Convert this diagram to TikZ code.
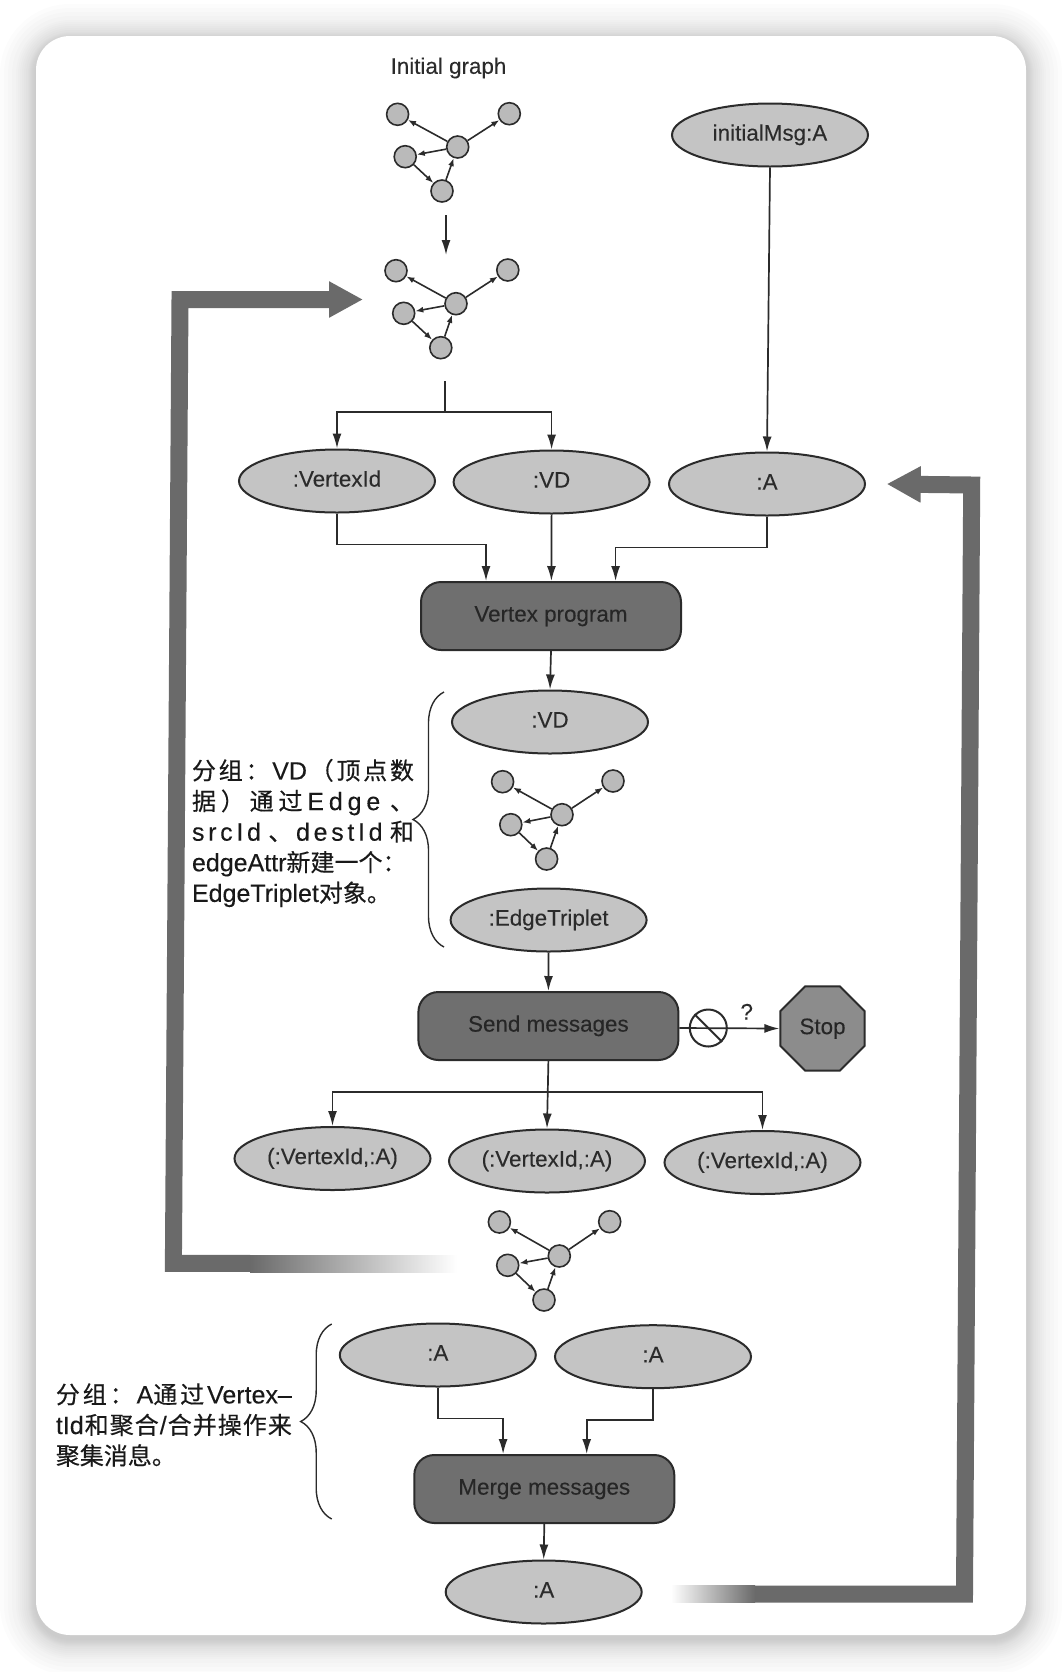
\documentclass[tikz,border=0pt]{standalone}
\usepackage{xcolor}
\usepackage{fontspec}
\setmainfont{Liberation Sans}[FakeBold=0.15]
\newfontfamily\cjk{Noto Sans CJK SC}[FakeBold=0.35]
\usepackage{tikz}
\usetikzlibrary{shapes.geometric, arrows.meta, decorations.pathreplacing}

\definecolor{inkgray}{HTML}{2B2B2B}
\definecolor{fieldgray}{HTML}{C4C4C4}
\definecolor{stagegray}{HTML}{6F6F6F}
\definecolor{stopgray}{HTML}{8C8C8C}
\definecolor{feedgray}{HTML}{6A6A6A}

\newcommand{\zh}[1]{{\cjk\fontsize{12}{15.3}\selectfont #1}}
\newcommand{\noteA}[1]{\makebox[111pt][s]{\spaceskip=0pt plus 1fil #1}}
\newcommand{\noteB}[1]{\makebox[118pt][s]{\spaceskip=0pt plus 1fil #1}}

\begin{document}
\begin{tikzpicture}[x = 0.5pt, y = -0.5pt]
            \tikzstyle{field} = [ellipse, draw=inkgray, line width=1pt, fill=fieldgray, text=inkgray, minimum width=98pt, minimum height=31.5pt, inner sep=0pt, text height=8pt, text depth=2.4pt, font=\fontsize{11.2}{13}\selectfont];
            \tikzstyle{stage} = [rectangle, rounded corners=10pt, draw=inkgray, line width=1pt, fill=stagegray, text=black!85, minimum width=130pt, minimum height=34pt, inner sep=0pt, text height=8pt, text depth=2.4pt, font=\fontsize{11.2}{13}\selectfont];
            \tikzstyle{stopsign} = [regular polygon, regular polygon sides=8, draw=inkgray, line width=1pt, fill=stopgray, text=black!85, minimum size=45.5pt, inner sep=0pt, text height=8pt, text depth=2.4pt, font=\fontsize{11.2}{13}\selectfont];
            \tikzstyle{vertexdot} = [circle, draw=inkgray, line width=0.8pt, fill=fieldgray!95!black, minimum size=11pt, inner sep=0pt];
            \tikzstyle{link} = [draw=inkgray, line width=0.8pt, -{Latex[length=4pt, width=3pt]}];
            \tikzstyle{flow} = [draw=inkgray, line width=0.85pt, -{Latex[length=7.5pt, width=4.5pt]}];
            \tikzstyle{plain} = [draw=inkgray, line width=0.85pt];
            \tikzstyle{feedback} = [draw=feedgray, line width=8.5pt, line join=miter, -{Triangle[length=17pt, width=17pt]}];
            \tikzstyle{curly} = [draw=inkgray, line width=0.7pt, decorate, decoration={brace, amplitude=15.5pt}];
            \tikzstyle{note} = [anchor=west, align=left, inner sep=0pt, text=black!90, font=\fontsize{12.5}{15.3}\selectfont];
            \tikzstyle{caption} = [text=inkgray, inner sep=0pt, font=\fontsize{11.2}{13}\selectfont];

            \useasboundingbox (0,0) rectangle (1062,1672);

            % card with soft shadow
            \foreach \s in {1,2,3,4,5,6,7,8,10,12,14,16,18,20,24,28,32,36} {
                \fill [black, opacity=0.0105, rounded corners={(17+0.5*\s)*1pt}] (36-\s,36-\s+4) rectangle (1026+\s,1635+\s+4);
            }
            \fill [white, rounded corners=17pt] (36,36) rectangle (1026,1635);

            % top of the picture
            \node [caption] (title) at (448.5,68) {Initial graph};
            \node [field] (initMsg) at (770,135) {initialMsg:A};

            \node [vertexdot] (A1) at (397.6,114.3) {};
            \node [vertexdot] (A2) at (509.3,113.7) {};
            \node [vertexdot] (A3) at (457.7,147) {};
            \node [vertexdot] (A4) at (405.2,156.7) {};
            \node [vertexdot] (A5) at (442,191) {};
            \draw [link] (A3) to (A1);
            \draw [link] (A3) to (A2);
            \draw [link] (A3) to (A4);
            \draw [link] (A4) to (A5);
            \draw [link] (A5) to (A3);

            \coordinate (A0) at (446,215);
            \coordinate (B0) at (446,255);
            \draw [flow] (A0) to (B0);

            \node [vertexdot] (B1) at (396,270.7) {};
            \node [vertexdot] (B2) at (507.8,270) {};
            \node [vertexdot] (B3) at (456,303.7) {};
            \node [vertexdot] (B4) at (403.7,313.3) {};
            \node [vertexdot] (B5) at (440.8,347.7) {};
            \draw [link] (B3) to (B1);
            \draw [link] (B3) to (B2);
            \draw [link] (B3) to (B4);
            \draw [link] (B4) to (B5);
            \draw [link] (B5) to (B3);

            % vertex program
            \node [field] (F1) at (337,481) {:VertexId};
            \node [field] (F2) at (551.6,482) {:VD};
            \node [field] (F3) at (767,484) {:A};
            \node [stage] (program) at (551,616) {Vertex program};

            \coordinate (B6) at (445,381);
            \coordinate (B7) at (445,412);
            \draw [plain] (B6) to (B7);
            \draw [flow] (B7) -| (F1.north);
            \draw [flow] (B7) -| (F2.north);
            \draw [flow] (initMsg.south) to (F3.north);
            \draw [flow] (F1.south) -- ++(0,31) -| ([xshift=-32.5pt]program.north);
            \draw [flow] (F2.south) to ([xshift=0.2pt]program.north);
            \draw [flow] (F3.south) -- ++(0,31) -| ([xshift=32.3pt]program.north);

            % grouping of the triplets
            \node [field] (V1) at (550,722) {:VD};
            \node [vertexdot] (C1) at (502.6,781.7) {};
            \node [vertexdot] (C2) at (613,781) {};
            \node [vertexdot] (C3) at (562,814.7) {};
            \node [vertexdot] (C4) at (510.8,824.7) {};
            \node [vertexdot] (C5) at (546.6,859) {};
            \draw [link] (C3) to (C1);
            \draw [link] (C3) to (C2);
            \draw [link] (C3) to (C4);
            \draw [link] (C4) to (C5);
            \draw [link] (C5) to (C3);
            \node [field] (T1) at (548.6,920) {:EdgeTriplet};
            \draw [flow] (program.south) to (V1.north);

            \coordinate (brace1a) at (444,947);
            \coordinate (brace1b) at (444,692);
            \draw [curly] (brace1a) -- (brace1b);
            \node [note] (note1) at (191.6,833) {\noteA{\zh{分 组 ： }VD\zh{ （ 顶 点 数}}\\
                \noteA{\zh{据 ） 通 过 }E d g e \zh{ 、}}\\
                \noteA{s r c I d \zh{ 、 }d e s t I d \zh{ 和}}\\
                edgeAttr\zh{新建一个：}\\
                EdgeTriplet\zh{对象。}};

            % send messages
            \node [stage] (send) at (548.4,1026) {Send messages};
            \node [stopsign] (stop) at (822.5,1028.5) {Stop};
            \node [circle, draw=inkgray, line width=1pt, minimum size=18.5pt, inner sep=0pt] (noEntry) at (708.3,1028) {};
            \node [caption] (query) at (746.7,1011.7) {?};
            \draw [flow] (T1.south) to (send.north);
            \draw [flow] ([yshift=-1pt]send.east) to (stop.west);
            \draw [draw=inkgray, line width=1pt] (noEntry.135) to (noEntry.-45);

            \node [field] (M1) at (332.5,1158.5) {(:VertexId,:A)};
            \node [field] (M2) at (547,1161) {(:VertexId,:A)};
            \node [field] (M3) at (762.5,1162.5) {(:VertexId,:A)};
            \coordinate (split) at (547.6,1092);
            \draw [flow] (send.south) to (M2.north);
            \draw [flow] (split) -| (M1.north);
            \draw [flow] (split) -| (M3.north);

            \node [vertexdot] (D1) at (499.4,1222) {};
            \node [vertexdot] (D2) at (609.7,1221.7) {};
            \node [vertexdot] (D3) at (559.3,1256) {};
            \node [vertexdot] (D4) at (507.7,1265.3) {};
            \node [vertexdot] (D5) at (544,1300) {};
            \draw [link] (D3) to (D1);
            \draw [link] (D3) to (D2);
            \draw [link] (D3) to (D4);
            \draw [link] (D4) to (D5);
            \draw [link] (D5) to (D3);

            % merge messages
            \node [field] (S1) at (437.8,1355) {:A};
            \node [field] (S2) at (653,1356.7) {:A};
            \node [stage] (merge) at (544.3,1489) {Merge messages};
            \node [field] (R1) at (543.7,1592) {:A};
            \draw [flow] (S1.south) -- ++(0,31) -| ([xshift=-20.6pt]merge.north);
            \draw [flow] (S2.south) -- ++(0,31) -| ([xshift=21.2pt]merge.north);
            \draw [flow] (merge.south) to (R1.north);

            \coordinate (brace2a) at (331.7,1519);
            \coordinate (brace2b) at (331.7,1324);
            \draw [curly] (brace2a) -- (brace2b);
            \node [note] (note2) at (55.5,1425) {\noteB{\zh{分 组 ： }A\zh{通 过 }Vertex–}\\
                \noteB{tId\zh{ 和 聚 合 }/\zh{ 合 并 操 作 来}}\\
                \zh{聚集消息。}};

            % thick feedback arrows
            \coordinate (L0) at (457,1263.4);
            \coordinate (L1) at (250,1263.4);
            \coordinate (L2) at (173.4,1263.4);
            \coordinate (L3) at (180,299.5);
            \coordinate (L4) at (363,299.5);
            \draw [feedback] (L1) -- (L2) -- (L3) -- (L4);
            \shade [left color=feedgray, right color=white] (250,1255) rectangle (L0 |- 0,1272);

            \coordinate (K0) at (671,1594);
            \coordinate (K1) at (755,1594);
            \coordinate (K2) at (964.5,1594);
            \coordinate (K3) at (971.7,485);
            \coordinate (K4) at (886.7,484);
            \draw [feedback] (K1) -- (K2) -- (K3) -- (K4);
            \shade [left color=white, right color=feedgray] (671,1585.5) rectangle (755,1602.5);
\end{tikzpicture}
\end{document}
